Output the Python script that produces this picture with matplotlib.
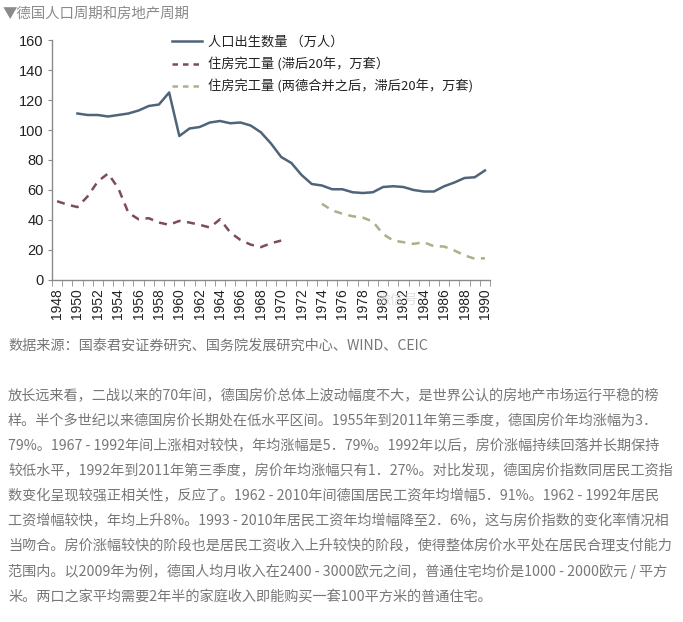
import matplotlib
matplotlib.use('Agg')
import matplotlib.pyplot as plt
from matplotlib.lines import Line2D

plt.rcParams['font.family'] = ['Noto Sans CJK SC', 'DejaVu Sans']

# data
years = list(range(1948, 1991))
birth_years = list(range(1950, 1991))
births = [111, 110, 110, 109, 110, 111, 113, 116, 117, 125,
          96, 101, 102, 105, 106, 104.5, 105, 103, 98.5, 91,
          82, 78, 70, 64, 63, 60.5, 60.5, 58.5, 58, 58.5,
          62, 62.5, 62, 60, 59, 59, 62.5, 65, 68, 68.5, 73]
house_years = list(range(1948, 1971))
house = [52.5, 50.3, 48.6, 55.8, 65.7, 71, 61.3, 44.8, 40.5, 41.2,
         38.3, 36.8, 39.4, 38.3, 36.8, 35, 40.5, 31.7, 26.7, 23.6,
         21.9, 24.5, 26.3]
house2_years = list(range(1974, 1991))
house2 = [50.8, 46.4, 44.2, 42.5, 41.6, 39, 30.6, 26.3, 25.2, 24.1,
          25.2, 22.5, 22.3, 19.7, 16.4, 14.2, 14.5]
yticks = list(range(0, 161, 20))

legend_labels = ['人口出生数量 （万人）',
                 '住房完工量 (滞后20年，万套）',
                 '住房完工量 (两德合并之后，滞后20年，万套)']

title = '▼德国人口周期和房地产周期'
source = '数据来源：国泰君安证券研究、国务院发展研究中心、WIND、CEIC'
body = [
    '放长远来看，二战以来的70年间，德国房价总体上波动幅度不大，是世界公认的房地产市场运行平稳的榜',
    '样。半个多世纪以来德国房价长期处在低水平区间。1955年到2011年第三季度，德国房价年均涨幅为3．',
    '79%。1967 - 1992年间上涨相对较快，年均涨幅是5．79%。1992年以后，房价涨幅持续回落并长期保持',
    '较低水平，1992年到2011年第三季度，房价年均涨幅只有1．27%。对比发现，德国房价指数同居民工资指',
    '数变化呈现较强正相关性，反应了。1962 - 2010年间德国居民工资年均增幅5．91%。1962 - 1992年居民',
    '工资增幅较快，年均上升8%。1993 - 2010年居民工资年均增幅降至2．6%，这与房价指数的变化率情况相',
    '当吻合。房价涨幅较快的阶段也是居民工资收入上升较快的阶段，使得整体房价水平处在居民合理支付能力',
    '范围内。以2009年为例，德国人均月收入在2400 - 3000欧元之间，普通住宅均价是1000 - 2000欧元 / 平方',
    '米。两口之家平均需要2年半的家庭收入即能购买一套100平方米的普通住宅。',
]

c_birth = '#4f647a'
c_house = '#7d4c5c'
c_house2 = '#aeae88'

W, H = 683, 622
fig = plt.figure(figsize=(W / 100, H / 100), dpi=100)
fig.patch.set_facecolor('white')

ax = fig.add_axes([52 / W, 1 - 280 / H, 438 / W, 240 / H])
ax.set_facecolor('white')

def pos(ys):
    return [y - years[0] for y in ys]

ax.plot(pos(birth_years), births, color=c_birth, lw=1.8, solid_joinstyle='round')
ax.plot(pos(house_years), house, color=c_house, lw=1.8, ls=(0, (3.2, 2.6)))
ax.plot(pos(house2_years), house2, color=c_house2, lw=1.8, ls=(0, (3.2, 2.6)))

ax.set_xlim(-0.5, len(years) - 0.5)
ax.set_ylim(0, 160)
for s in ['top', 'right']:
    ax.spines[s].set_visible(False)
for s in ['left', 'bottom']:
    ax.spines[s].set_color('#8a8a8a')
    ax.spines[s].set_linewidth(1.0)

ax.set_yticks(yticks)
ax.set_yticklabels([str(v) for v in yticks], family='Liberation Sans', fontsize=10.5, color='#222')
ax.tick_params(axis='y', length=3, color='#8a8a8a', pad=3)

major = [i for i, y in enumerate(years) if y % 2 == 0]
ax.set_xticks(major)
ax.set_xticklabels([str(years[i]) for i in major], rotation=90,
                   family='Liberation Sans', fontsize=10, color='#222')
ax.set_xticks([i - 0.5 for i in range(len(years) + 1)], minor=True)
ax.tick_params(axis='x', which='major', length=0, pad=6)
ax.tick_params(axis='x', which='minor', length=4, color='#8a8a8a')

handles = [Line2D([], [], color=c_birth, lw=1.8),
           Line2D([], [], color=c_house, lw=1.8, ls=(0, (2.2, 2.0))),
           Line2D([], [], color=c_house2, lw=1.8, ls=(0, (2.2, 2.0)))]
leg = fig.legend(handles, legend_labels, loc='upper left',
                 bbox_to_anchor=(172 / W, 1 - 36 / H), frameon=False,
                 fontsize=9.5, handlelength=2.3, handletextpad=0.4,
                 labelspacing=0.62, borderpad=0, borderaxespad=0)
for t in leg.get_texts():
    t.set_color('#222')

# faint watermark over the x labels
fig.text(405 / W, 1 - 300 / H, '微信号：', fontsize=10, color='#d8d8d8',
         ha='center', va='center', alpha=0.8)

fig.text(3 / W, 1 - 14 / H, title, fontsize=10.4, color='#8a8a8a', va='center')
fig.text(8 / W, 1 - 346 / H, source, fontsize=10.2, color='#777777', va='center')
for k, line in enumerate(body):
    fig.text(8 / W, 1 - (396 + 25.1 * k) / H, line, fontsize=10.2,
             color='#777777', va='center')

fig.savefig('out.png', dpi=100, facecolor='white')
